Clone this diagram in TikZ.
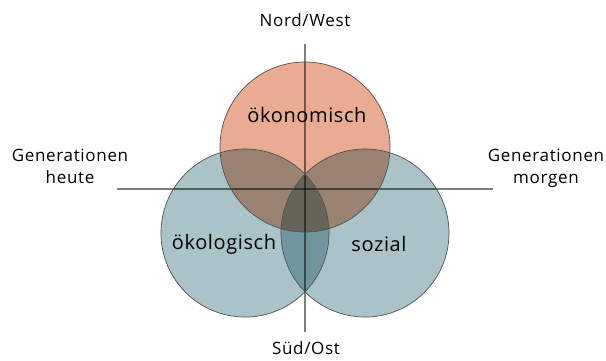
\documentclass[tikz,border=0pt]{standalone}
\usepackage{fontspec}
\setmainfont{Open Sans}
\definecolor{salmon}{RGB}{233,171,145}
\definecolor{bluec}{RGB}{169,195,200}
\definecolor{sb}{RGB}{154,131,114}
\definecolor{bb}{RGB}{112,149,157}
\definecolor{sbb}{RGB}{102,100,89}
\definecolor{rim}{RGB}{80,80,80}
\tikzset{
  axis/.style={draw=black, draw opacity=0.5, line width=1.1pt},
  rimline/.style={draw=rim, line width=0.7pt},
  biglabel/.style={font=\fontsize{20}{24}\selectfont\addfontfeatures{LetterSpace=3}, anchor=base, inner sep=0pt},
  smalllabel/.style={font=\fontsize{17}{22}\selectfont\addfontfeatures{LetterSpace=4}, anchor=base, inner sep=0pt, align=center},
}
\begin{document}
\begin{tikzpicture}[x=1pt,y=-1pt]
\useasboundingbox (0,0) rectangle (606,360);
\def\Tc{(305,147) circle (85)}
\def\Lc{(245,233) circle (84)}
\def\Rc{(365,233) circle (84)}
% base fills
\fill[salmon] \Tc;
\fill[bluec] \Lc;
\fill[bluec] \Rc;
% overlaps
\begin{scope}\clip \Lc; \fill[sb] \Tc; \end{scope}
\begin{scope}\clip \Rc; \fill[sb] \Tc; \end{scope}
\begin{scope}\clip \Lc; \fill[bb] \Rc; \end{scope}
\begin{scope}\clip \Lc; \clip \Rc; \fill[sbb] \Tc; \end{scope}
% axes
\coordinate (N) at (305,44);
\coordinate (S) at (305,332);
\coordinate (W) at (117,189);
\coordinate (E) at (493,189);
\draw[axis] (N) -- (S);
\draw[axis] (W) -- (E);
% outlines
\draw[rimline] \Tc;
\draw[rimline] \Lc;
\draw[rimline] \Rc;
% labels
\node[biglabel] (oek) at (307,122) {ökonomisch};
\node[biglabel] (oeko) at (224,249) {ökologisch};
\node[biglabel] (soz) at (379,251) {sozial};
\node[smalllabel] (nw) at (305,26) {Nord/West};
\node[smalllabel] (so) at (306,354) {Süd/Ost};
\node[smalllabel] (gh) at (70,183) {Generationen\\heute};
\node[smalllabel] (gm) at (546,183) {Generationen\\morgen};
\end{tikzpicture}
\end{document}
